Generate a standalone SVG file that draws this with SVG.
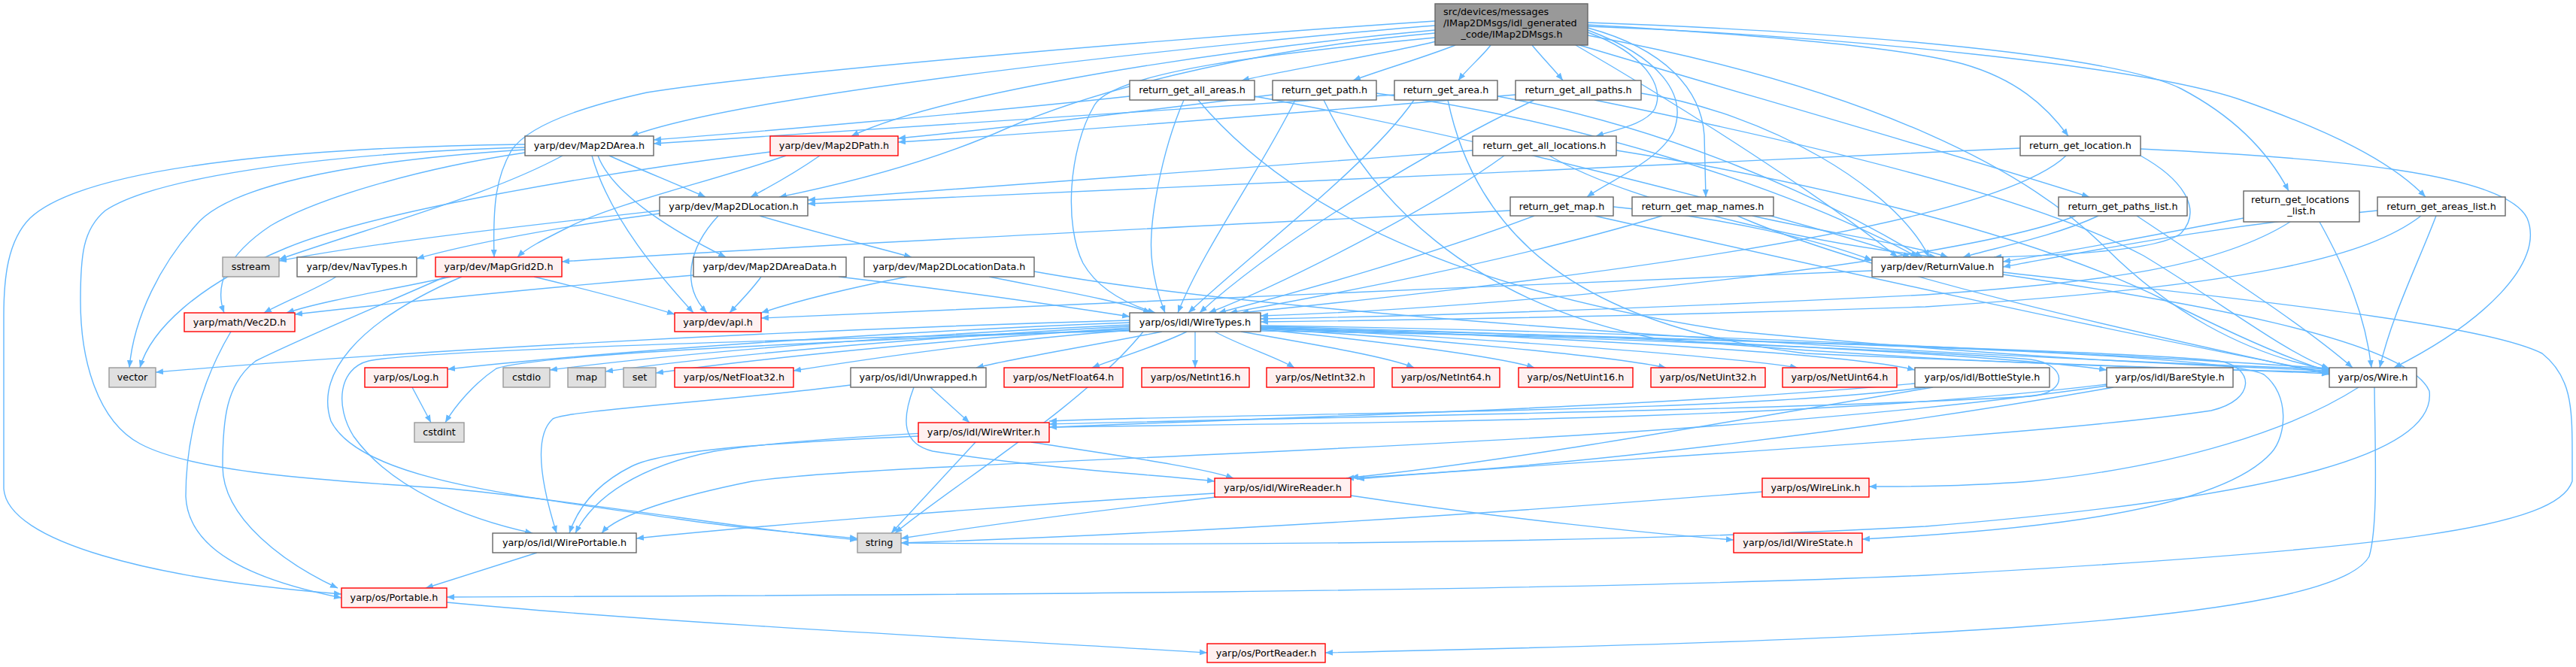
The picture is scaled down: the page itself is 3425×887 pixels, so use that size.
<svg xmlns="http://www.w3.org/2000/svg" width="3425" height="887" viewBox="0 0 3425 887">
<defs>
<marker id="ah" markerUnits="userSpaceOnUse" markerWidth="12" markerHeight="10" refX="10" refY="4" orient="auto"><path d="M0,0 L10,4 L0,8 z" fill="#63B8FF"/></marker>
<style>
.e path{fill:none;stroke:#63B8FF;stroke-width:1.4;marker-end:url(#ah)}
.n rect{fill:#FFFFFF;stroke:#666666;stroke-width:1.4}
.r rect{fill:#FFF0F0;stroke:#FF0000;stroke-width:1.4}
.g rect{fill:#E0E0E0;stroke:#999999;stroke-width:1.4}
.root rect{fill:#999999;stroke:#666666;stroke-width:1.4}
text{font-family:"DejaVu Sans","Liberation Sans",sans-serif;font-size:12.8px;fill:#000000;text-anchor:middle}
text.s{text-anchor:start}
</style>
</defs>
<rect width="3425" height="887" fill="#FFFFFF"/>
<g id="connectors" class="e">
<path d="M1910,55 C1840,72 1700,95 1651,107"/>
<path d="M1935,60 C1895,76 1830,95 1799,107"/>
<path d="M1982,60 C1970,76 1950,92 1939,107"/>
<path d="M2037,60 C2050,76 2066,92 2078,107"/>
<path d="M2111,43 C2185,70 2215,115 2200,145 C2188,165 2150,172 2122,181"/>
<path d="M2111,40 C2205,75 2245,125 2225,175 C2205,215 2140,240 2110,262"/>
<path d="M2111,37 C2215,65 2262,120 2266,180 L2268,262"/>
<path d="M2111,33 C2300,44 2520,60 2610,85 C2680,105 2720,140 2750,181"/>
<path d="M2100,60 C2300,120 2600,205 2778,262"/>
<path d="M2111,30 C2400,40 2800,68 2900,118 C2980,160 3020,210 3043,254"/>
<path d="M2111,35 C2450,48 2850,88 2980,133 C3100,175 3180,215 3225,262"/>
<path d="M1908,34 C1700,50 1000,120 839,181"/>
<path d="M1908,40 C1600,68 1250,125 1132,181"/>
<path d="M1908,44 C1700,62 1480,110 1340,170 C1240,215 1120,245 1036,262"/>
<path d="M1908,28 C1500,55 1000,100 860,123 C760,145 700,170 680,200 C660,235 655,270 657,342"/>
<path d="M1908,50 C1700,70 1480,95 1455,140 C1420,200 1415,300 1440,350 C1460,385 1500,405 1536,416"/>
<path d="M2111,47 C2500,120 2700,230 2800,330 C2880,410 2980,470 3097,492"/>
<path d="M2095,60 C2250,150 2420,260 2523,342"/>
<path d="M1502,128 C1300,150 1000,176 869,186"/>
<path d="M1574,133 C1545,200 1525,300 1532,350 C1536,385 1545,405 1549,416"/>
<path d="M1593,133 C1700,260 1900,380 2300,440 C2700,478 2950,487 3097,493"/>
<path d="M1668,128 C1950,180 2350,280 2540,342"/>
<path d="M1692,126 C1500,150 1300,174 1194,184"/>
<path d="M1722,133 C1680,220 1600,330 1566,416"/>
<path d="M1760,133 C1820,260 1950,400 2200,450 C2600,485 2900,490 3097,495"/>
<path d="M1830,124 C2100,160 2380,250 2550,342"/>
<path d="M1854,126 C1500,150 1000,182 869,191"/>
<path d="M1880,133 C1820,220 1660,340 1580,416"/>
<path d="M1925,133 C1960,300 2080,430 2400,470 C2800,488 3000,492 3097,497"/>
<path d="M1991,128 C2220,170 2420,260 2556,342"/>
<path d="M2015,126 C1700,152 1350,180 1194,189"/>
<path d="M2040,133 C1900,200 1700,320 1595,416"/>
<path d="M2120,133 C2400,190 2700,260 2850,340 C2950,400 3040,470 3097,490"/>
<path d="M2182,124 C2350,150 2520,250 2565,342"/>
<path d="M1958,200 C1600,228 1200,256 1074,266"/>
<path d="M2000,207 C1900,280 1700,380 1607,416"/>
<path d="M2149,200 C2400,240 2700,310 2880,400 C2980,450 3050,480 3097,494"/>
<path d="M2060,207 C2160,265 2380,320 2575,342"/>
<path d="M2686,197 C2200,220 1500,252 1074,271"/>
<path d="M2747,207 C2640,310 2000,380 1650,416"/>
<path d="M2846,198 C3100,210 3330,230 3360,290 C3385,350 3300,430 3183,489"/>
<path d="M2846,207 C2905,240 2928,280 2900,310 C2870,335 2720,340 2651,342"/>
<path d="M2008,280 C1600,300 1000,330 747,348"/>
<path d="M2040,287 C1900,340 1720,390 1620,416"/>
<path d="M2120,287 C2400,350 2800,440 3097,496"/>
<path d="M2145,275 C2300,290 2420,320 2489,346"/>
<path d="M2210,287 C2000,350 1750,395 1635,416"/>
<path d="M2310,287 C2500,370 2900,455 3097,498"/>
<path d="M2330,287 C2430,310 2540,325 2590,342"/>
<path d="M2760,287 C2600,350 2000,410 1676,420"/>
<path d="M2841,287 C2950,360 3060,430 3128,489"/>
<path d="M2790,287 C2730,315 2650,330 2610,342"/>
<path d="M3045,295 C2950,355 2800,375 2560,392 C2200,410 1900,420 1676,424"/>
<path d="M3084,295 C3120,360 3145,420 3153,489"/>
<path d="M2983,290 C2850,315 2750,335 2663,348"/>
<path d="M3219,287 C3150,340 3000,380 2560,408 C2200,420 1850,426 1676,428"/>
<path d="M3239,287 C3215,350 3180,420 3164,489"/>
<path d="M3161,280 C2950,300 2800,330 2663,355"/>
<path d="M698,192 C450,195 120,215 40,290 C10,320 5,370 5,420 L5,650 C10,720 200,770 454,790"/>
<path d="M698,196 C400,205 200,240 140,280 C110,305 107,340 107,400 C107,480 130,560 186,590 C260,630 450,640 600,650 C800,670 1000,705 1140,718"/>
<path d="M698,199 C450,215 300,250 260,300 C215,350 178,420 172,489"/>
<path d="M698,203 C550,225 420,265 360,300 C300,340 285,380 298,416"/>
<path d="M748,207 C650,260 500,300 371,345"/>
<path d="M787,207 C810,290 880,370 922,416"/>
<path d="M810,207 C850,225 900,245 938,262"/>
<path d="M795,207 C815,260 900,310 965,342"/>
<path d="M1090,207 C1060,228 1030,245 998,262"/>
<path d="M1024,202 C800,230 500,280 380,330 C260,380 200,440 186,489"/>
<path d="M1045,207 C950,240 820,270 760,300 C720,320 700,330 688,342"/>
<path d="M877,280 C700,300 500,322 371,347"/>
<path d="M877,284 C750,300 620,325 554,344"/>
<path d="M955,287 C915,330 905,380 940,416"/>
<path d="M1010,287 C1080,308 1150,325 1212,342"/>
<path d="M600,368 C520,385 430,400 381,416"/>
<path d="M592,368 C520,400 400,450 340,480 C300,510 296,560 296,620 C296,690 380,750 449,782"/>
<path d="M710,368 C780,385 840,400 897,418"/>
<path d="M614,368 C470,430 420,500 440,560 C480,640 700,660 900,690 C1000,705 1100,712 1140,716"/>
<path d="M447,368 C420,385 380,400 351,416"/>
<path d="M307,441 C260,520 247,600 247,660 C250,730 330,770 454,795"/>
<path d="M1012,368 C1000,385 985,400 970,416"/>
<path d="M1115,368 C1300,390 1420,408 1502,421"/>
<path d="M922,366 C750,380 550,400 392,418"/>
<path d="M1206,368 C1120,385 1060,400 1012,416"/>
<path d="M1315,368 C1400,385 1490,400 1530,416"/>
<path d="M1375,361 C1700,420 2500,470 3097,491"/>
<path d="M1502,426 C1000,440 500,470 207,495"/>
<path d="M1502,429 C1200,440 800,468 595,491"/>
<path d="M1502,432 C1200,445 900,470 731,492"/>
<path d="M1502,434 C1200,450 950,474 805,494"/>
<path d="M1502,436 C1250,452 1000,478 872,496"/>
<path d="M1502,439 C1300,455 1150,478 1055,493"/>
<path d="M1545,441 C1450,460 1350,476 1298,489"/>
<path d="M1578,441 C1540,460 1480,478 1452,489"/>
<path d="M1589,441 L1589,489"/>
<path d="M1615,441 C1650,460 1700,476 1721,489"/>
<path d="M1650,441 C1760,460 1850,476 1880,489"/>
<path d="M1676,438 C1850,455 2000,476 2040,489"/>
<path d="M1676,437 C1900,450 2150,475 2215,489"/>
<path d="M1676,436 C1950,448 2300,474 2390,489"/>
<path d="M1676,435 C2000,445 2450,468 2546,492"/>
<path d="M1676,434 C2100,444 2650,470 2801,492"/>
<path d="M1676,433 C2200,440 2800,470 3097,490"/>
<path d="M1502,438 C1100,455 720,470 660,490 C630,510 605,540 592,562"/>
<path d="M1676,437 C2100,448 2600,468 2700,478 C2748,484 2752,522 2700,527 C2400,545 1700,556 1395,564"/>
<path d="M1676,436 C2200,448 2850,468 2950,480 C2998,488 3000,532 2940,546 C2700,582 2100,612 1804,637"/>
<path d="M1502,440 C1100,450 560,465 490,480 C450,490 445,540 470,580 C520,650 620,690 708,709"/>
<path d="M1520,441 C1440,540 1260,650 1190,709"/>
<path d="M1676,440 C2300,450 2950,468 3010,498 C3045,525 3040,580 3020,602 C2950,680 2700,705 2476,717"/>
<path d="M1237,515 L1289,562"/>
<path d="M1215,515 C1198,560 1200,590 1240,600 C1400,625 1550,632 1615,640"/>
<path d="M1131,512 C950,535 760,545 735,557 C715,575 712,620 740,709"/>
<path d="M2560,515 C2300,550 1700,548 1395,560"/>
<path d="M2570,515 C2300,560 2000,615 1796,635"/>
<path d="M2546,510 C2000,560 1200,560 950,600 C850,620 790,660 765,709"/>
<path d="M2801,511 C2400,560 1800,562 1395,568"/>
<path d="M2810,515 C2500,570 2100,620 1790,636"/>
<path d="M2801,513 C2200,600 1200,610 1000,640 C900,660 820,685 800,709"/>
<path d="M1371,588 C1500,608 1600,622 1640,636"/>
<path d="M1297,588 L1185,709"/>
<path d="M1221,580 C1000,590 880,600 840,620 C800,640 770,670 757,709"/>
<path d="M1796,659 C2000,690 2200,710 2305,718"/>
<path d="M1617,661 C1450,680 1300,700 1198,716"/>
<path d="M1615,656 C1300,675 1000,700 846,716"/>
<path d="M3136,515 C3050,570 2900,620 2700,640 C2600,648 2520,647 2485,647"/>
<path d="M3157,515 C3158,600 3162,700 3150,740 C3100,830 2500,852 1762,868"/>
<path d="M2343,654 C1900,690 1500,712 1198,722"/>
<path d="M714,735 L566,782"/>
<path d="M594,801 C900,830 1400,855 1605,868"/>
<path d="M548,515 L573,562"/>
<path d="M2489,360 C2000,380 1400,405 1012,423"/>
<path d="M2663,362 C3000,400 3300,430 3380,470 C3418,500 3420,540 3420,600 L3420,640 C3400,700 3200,730 2560,765 C2000,790 1000,792 594,794"/>
<path d="M2663,365 C2900,400 3200,450 3230,520 C3240,600 3050,660 2560,700 C2100,725 1500,725 1198,722"/>
</g>
<g id="node-root" class="root"><rect x="1908" y="5" width="203" height="55"/><text class="s" x="1919" y="20">src/devices/messages</text><text class="s" x="1919" y="35">/IMap2DMsgs/idl_generated</text><text x="2010" y="50">_code/IMap2DMsgs.h</text></g>
<g id="node-rgaa" class="n"><rect x="1502" y="107" width="166" height="26"/><text x="1585" y="123.5">return_get_all_areas.h</text></g>
<g id="node-rgp" class="n"><rect x="1692" y="107" width="138" height="26"/><text x="1761" y="123.5">return_get_path.h</text></g>
<g id="node-rga" class="n"><rect x="1854" y="107" width="137" height="26"/><text x="1922.5" y="123.5">return_get_area.h</text></g>
<g id="node-rgap" class="n"><rect x="2015" y="107" width="167" height="26"/><text x="2098.5" y="123.5">return_get_all_paths.h</text></g>
<g id="node-m2darea" class="n"><rect x="698" y="181" width="171" height="26"/><text x="783.5" y="197.5">yarp/dev/Map2DArea.h</text></g>
<g id="node-m2dpath" class="r"><rect x="1024" y="181" width="170" height="26"/><text x="1109" y="197.5">yarp/dev/Map2DPath.h</text></g>
<g id="node-rgal" class="n"><rect x="1958" y="181" width="191" height="26"/><text x="2053.5" y="197.5">return_get_all_locations.h</text></g>
<g id="node-rgl" class="n"><rect x="2686" y="181" width="160" height="26"/><text x="2766" y="197.5">return_get_location.h</text></g>
<g id="node-m2dloc" class="n"><rect x="877" y="262" width="197" height="25"/><text x="975.5" y="278.5">yarp/dev/Map2DLocation.h</text></g>
<g id="node-rgm" class="n"><rect x="2008" y="262" width="137" height="25"/><text x="2076.5" y="278.5">return_get_map.h</text></g>
<g id="node-rgmn" class="n"><rect x="2170" y="262" width="188" height="25"/><text x="2264" y="278.5">return_get_map_names.h</text></g>
<g id="node-rgpl" class="n"><rect x="2737" y="262" width="171" height="25"/><text x="2822.5" y="278.5">return_get_paths_list.h</text></g>
<g id="node-rgll" class="n"><rect x="2983" y="254" width="154" height="41"/><text class="s" x="2993" y="270">return_get_locations</text><text x="3060" y="285">_list.h</text></g>
<g id="node-rgarl" class="n"><rect x="3161" y="262" width="170" height="25"/><text x="3246" y="278.5">return_get_areas_list.h</text></g>
<g id="node-sstream" class="g"><rect x="296" y="342" width="75" height="26"/><text x="333.5" y="358.5">sstream</text></g>
<g id="node-navtypes" class="n"><rect x="395" y="342" width="159" height="26"/><text x="474.5" y="358.5">yarp/dev/NavTypes.h</text></g>
<g id="node-mapgrid" class="r"><rect x="579" y="342" width="168" height="26"/><text x="663" y="358.5">yarp/dev/MapGrid2D.h</text></g>
<g id="node-m2dad" class="n"><rect x="922" y="342" width="203" height="26"/><text x="1023.5" y="358.5">yarp/dev/Map2DAreaData.h</text></g>
<g id="node-m2dld" class="n"><rect x="1149" y="342" width="226" height="26"/><text x="1262" y="358.5">yarp/dev/Map2DLocationData.h</text></g>
<g id="node-retval" class="n"><rect x="2489" y="342" width="174" height="26"/><text x="2576" y="358.5">yarp/dev/ReturnValue.h</text></g>
<g id="node-vec2d" class="r"><rect x="245" y="416" width="147" height="25"/><text x="318.5" y="432.5">yarp/math/Vec2D.h</text></g>
<g id="node-api" class="r"><rect x="897" y="416" width="115" height="25"/><text x="954.5" y="432.5">yarp/dev/api.h</text></g>
<g id="node-wiretypes" class="n"><rect x="1502" y="416" width="174" height="25"/><text x="1589" y="432.5">yarp/os/idl/WireTypes.h</text></g>
<g id="node-vector" class="g"><rect x="145" y="489" width="62" height="26"/><text x="176" y="505.5">vector</text></g>
<g id="node-log" class="r"><rect x="485" y="489" width="110" height="26"/><text x="540" y="505.5">yarp/os/Log.h</text></g>
<g id="node-cstdio" class="g"><rect x="669" y="489" width="62" height="26"/><text x="700" y="505.5">cstdio</text></g>
<g id="node-map" class="g"><rect x="755" y="489" width="50" height="26"/><text x="780" y="505.5">map</text></g>
<g id="node-set" class="g"><rect x="829" y="489" width="43" height="26"/><text x="850.5" y="505.5">set</text></g>
<g id="node-nf32" class="r"><rect x="897" y="489" width="158" height="26"/><text x="976" y="505.5">yarp/os/NetFloat32.h</text></g>
<g id="node-unwrapped" class="n"><rect x="1131" y="489" width="180" height="26"/><text x="1221" y="505.5">yarp/os/idl/Unwrapped.h</text></g>
<g id="node-nf64" class="r"><rect x="1335" y="489" width="158" height="26"/><text x="1414" y="505.5">yarp/os/NetFloat64.h</text></g>
<g id="node-ni16" class="r"><rect x="1518" y="489" width="143" height="26"/><text x="1589.5" y="505.5">yarp/os/NetInt16.h</text></g>
<g id="node-ni32" class="r"><rect x="1684" y="489" width="143" height="26"/><text x="1755.5" y="505.5">yarp/os/NetInt32.h</text></g>
<g id="node-ni64" class="r"><rect x="1851" y="489" width="143" height="26"/><text x="1922.5" y="505.5">yarp/os/NetInt64.h</text></g>
<g id="node-nu16" class="r"><rect x="2019" y="489" width="152" height="26"/><text x="2095" y="505.5">yarp/os/NetUint16.h</text></g>
<g id="node-nu32" class="r"><rect x="2195" y="489" width="152" height="26"/><text x="2271" y="505.5">yarp/os/NetUint32.h</text></g>
<g id="node-nu64" class="r"><rect x="2370" y="489" width="152" height="26"/><text x="2446" y="505.5">yarp/os/NetUint64.h</text></g>
<g id="node-bottle" class="n"><rect x="2546" y="489" width="179" height="26"/><text x="2635.5" y="505.5">yarp/os/idl/BottleStyle.h</text></g>
<g id="node-bare" class="n"><rect x="2801" y="489" width="168" height="26"/><text x="2885" y="505.5">yarp/os/idl/BareStyle.h</text></g>
<g id="node-wire" class="n"><rect x="3097" y="489" width="116" height="26"/><text x="3155" y="505.5">yarp/os/Wire.h</text></g>
<g id="node-cstdint" class="g"><rect x="551" y="562" width="66" height="26"/><text x="584" y="578.5">cstdint</text></g>
<g id="node-writer" class="r"><rect x="1221" y="562" width="174" height="26"/><text x="1308" y="578.5">yarp/os/idl/WireWriter.h</text></g>
<g id="node-reader" class="r"><rect x="1615" y="636" width="181" height="25"/><text x="1705.5" y="652.5">yarp/os/idl/WireReader.h</text></g>
<g id="node-wirelink" class="r"><rect x="2343" y="636" width="142" height="25"/><text x="2414" y="652.5">yarp/os/WireLink.h</text></g>
<g id="node-wireportable" class="n"><rect x="655" y="709" width="191" height="26"/><text x="750.5" y="725.5">yarp/os/idl/WirePortable.h</text></g>
<g id="node-string" class="g"><rect x="1140" y="709" width="58" height="26"/><text x="1169" y="725.5">string</text></g>
<g id="node-wirestate" class="r"><rect x="2305" y="709" width="171" height="26"/><text x="2390.5" y="725.5">yarp/os/idl/WireState.h</text></g>
<g id="node-portable" class="r"><rect x="454" y="782" width="140" height="26"/><text x="524" y="798.5">yarp/os/Portable.h</text></g>
<g id="node-portreader" class="r"><rect x="1605" y="856" width="157" height="25"/><text x="1683.5" y="872.5">yarp/os/PortReader.h</text></g>
</svg>
